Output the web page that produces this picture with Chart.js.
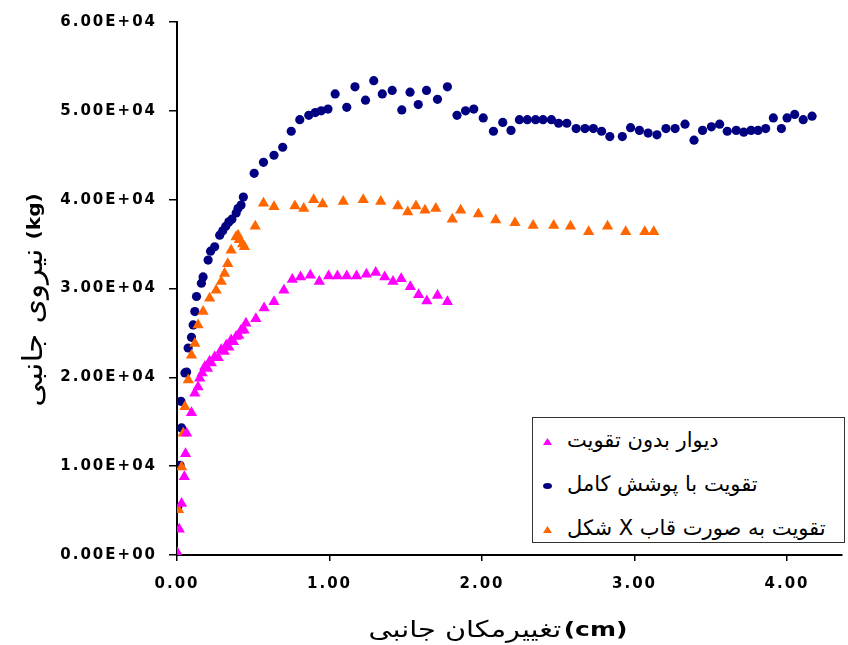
<!DOCTYPE html>
<html>
<head>
<meta charset="utf-8">
<script src="https://cdn.jsdelivr.net/npm/chart.js@4"></script>
<style>
  html, body { margin: 0; padding: 0; background: #fff; }
  #wrap { position: relative; width: 848px; height: 645px; }
  #legend {
    position: absolute; left: 532px; top: 417px; width: 311px; height: 124px;
    border: 1.5px solid #333; background: #fff;
    font-family: "DejaVu Sans", sans-serif; font-size: 21px; color: #000;
  }
  .row { position: absolute; left: 0; width: 100%; height: 30px; }
  .mk { position: absolute; left: 10px; top: 12px; width: 9px; height: 7px; }
  .tri { clip-path: polygon(50% 0, 100% 100%, 0 100%); }
  .dot { border-radius: 50%; height: 6px; top: 13px; }
  .txt { position: absolute; left: 34px; top: 1px; direction: rtl; unicode-bidi: isolate; white-space: nowrap; line-height: 26px; }
</style>
</head>
<body>
<div id="wrap">
  <canvas id="c" width="848" height="645"></canvas>
  <div id="legend"></div>
</div>
<script>
// lateral displacement (cm) / lateral force (kg)
const seriesNames = ['دیوار بدون تقویت', 'تقویت با پوشش کامل', 'تقویت به صورت قاب X شکل'];
const seriesColors = ['#ff00ff', '#000080', '#ff6600'];

const wallX = [0, 0.015, 0.03, 0.048, 0.056, 0.063, 0.095, 0.117, 0.138, 0.149, 0.165, 0.182, 0.2, 0.214, 0.225, 0.247, 0.27, 0.29, 0.31, 0.323, 0.34, 0.355, 0.37, 0.388, 0.405, 0.42, 0.44, 0.452, 0.517, 0.571, 0.636, 0.701, 0.756, 0.81, 0.874, 0.933, 0.994, 1.052, 1.113, 1.177, 1.242, 1.303, 1.362, 1.416, 1.47, 1.53, 1.584, 1.638, 1.708, 1.773];
const wallY = [300, 2900, 5800, 8800, 11400, 13700, 16000, 18200, 18900, 19900, 20500, 21200, 21000, 21800, 21600, 22300, 22200, 23100, 22900, 23600, 23400, 24200, 24000, 24600, 24700, 25300, 25300, 26100, 26600, 27800, 28500, 29800, 31000, 31300, 31500, 30800, 31400, 31400, 31400, 31400, 31600, 31800, 31300, 30800, 31100, 30200, 29300, 28600, 29200, 28500];

const fullX = [0, 0.005, 0.02, 0.03, 0.026, 0.052, 0.063, 0.073, 0.095, 0.106, 0.117, 0.128, 0.16, 0.171, 0.204, 0.22, 0.247, 0.28, 0.3, 0.32, 0.34, 0.36, 0.388, 0.4, 0.42, 0.435, 0.506, 0.567, 0.636, 0.693, 0.749, 0.805, 0.864, 0.907, 0.946, 0.99, 1.037, 1.113, 1.167, 1.236, 1.29, 1.346, 1.411, 1.474, 1.528, 1.582, 1.636, 1.708, 1.773, 1.836, 1.892, 1.946, 2.008, 2.075, 2.136, 2.19, 2.245, 2.297, 2.351, 2.4, 2.455, 2.502, 2.556, 2.617, 2.675, 2.73, 2.784, 2.838, 2.92, 2.974, 3.032, 3.089, 3.147, 3.206, 3.266, 3.331, 3.39, 3.446, 3.504, 3.558, 3.608, 3.667, 3.716, 3.764, 3.81, 3.86, 3.91, 3.963, 4.0, 4.05, 4.106, 4.164];
const fullY = [0, 5400, 10100, 14300, 17300, 20500, 20600, 23300, 24500, 25900, 27400, 29100, 30600, 31300, 33200, 34200, 34700, 36000, 36500, 37000, 37500, 37800, 38500, 39000, 39400, 40300, 42970, 44200, 45000, 45900, 47700, 49000, 49500, 49800, 50000, 50200, 51900, 50400, 52700, 51200, 53400, 51900, 52300, 50100, 52100, 50700, 52300, 51300, 52700, 49500, 50000, 50200, 49200, 47700, 48700, 47800, 49000, 49000, 49000, 49000, 49000, 48600, 48600, 48000, 48000, 48000, 47700, 47100, 47100, 48100, 47800, 47500, 47300, 48000, 48000, 48500, 46700, 47800, 48200, 48500, 47700, 47800, 47600, 47800, 47800, 48000, 49200, 48000, 49200, 49600, 49000, 49400];

const frameX = [0, 0.01, 0.03, 0.041, 0.052, 0.074, 0.095, 0.117, 0.138, 0.171, 0.214, 0.257, 0.29, 0.312, 0.333, 0.355, 0.387, 0.4, 0.409, 0.43, 0.442, 0.513, 0.567, 0.636, 0.773, 0.831, 0.896, 0.955, 1.09, 1.221, 1.336, 1.448, 1.513, 1.567, 1.626, 1.697, 1.805, 1.86, 1.976, 2.09, 2.216, 2.335, 2.47, 2.58, 2.699, 2.823, 2.942, 3.067, 3.126];
const frameY = [200, 5100, 9900, 13700, 16700, 19700, 22500, 23800, 25900, 27400, 28900, 29800, 30800, 31700, 32800, 34300, 35800, 36000, 35500, 35000, 34700, 37000, 39600, 39200, 39300, 39000, 40000, 39500, 39800, 40000, 39800, 39300, 38600, 39300, 38800, 39000, 37800, 38800, 38400, 37700, 37400, 37100, 37100, 37000, 36400, 37000, 36400, 36400, 36400];

const xTitle = 'تغییرمکان جانبی';
const yTitle = 'نیروی جانبی';

function pts(xs, ys) { return xs.map((x, i) => ({ x: x, y: ys[i] })); }

const tickFont = { family: '"DejaVu Sans", sans-serif', size: 15, weight: 'bold' };

// draws persian text + bold unit side by side, stretched along the text direction
function drawTitle(ctx, cx, cy, rot, stretch, fa, faFont, unit, unitFont, gap) {
  ctx.save();
  ctx.fillStyle = '#000';
  ctx.textBaseline = 'middle';
  ctx.textAlign = 'left';
  ctx.translate(cx, cy);
  ctx.rotate(rot);
  ctx.scale(stretch, 1);
  ctx.font = faFont;
  const wf = ctx.measureText(fa).width;
  ctx.font = unitFont;
  const wu = ctx.measureText(unit).width;
  const sx = -(wf + gap + wu) / 2;
  ctx.font = faFont;
  ctx.fillText(fa, sx, 0);
  ctx.font = unitFont;
  ctx.fillText(unit, sx + wf + gap, 0);
  ctx.restore();
}

// canvas letter spacing for the wide tick labels, titles drawn after without it
const textPlugin = {
  id: 'textStyle',
  beforeDraw(chart) { chart.ctx.letterSpacing = '2px'; },
  afterDraw(chart) {
    const ctx = chart.ctx;
    ctx.letterSpacing = '0px';
    drawTitle(ctx, 35, 300, -Math.PI / 2, 1.12, yTitle, '28px "DejaVu Sans"', '(kg)', 'bold 18px "DejaVu Sans"', 8);
    drawTitle(ctx, 498, 631, 0, 1.25, xTitle, '23px "DejaVu Sans"', '(cm)', 'bold 20px "DejaVu Sans"', 2);
  }
};

const chart = new Chart(document.getElementById('c'), {
  type: 'scatter',
  data: {
    datasets: [
      { label: seriesNames[0], data: pts(wallX, wallY), pointStyle: 'triangle', pointRadius: 6.5,
        backgroundColor: seriesColors[0], borderColor: seriesColors[0], borderWidth: 0, order: 0 },
      { label: seriesNames[1], data: pts(fullX, fullY), pointStyle: 'circle', pointRadius: 4.6,
        backgroundColor: seriesColors[1], borderColor: seriesColors[1], borderWidth: 0, order: 2 },
      { label: seriesNames[2], data: pts(frameX, frameY), pointStyle: 'triangle', pointRadius: 6.5,
        backgroundColor: seriesColors[2], borderColor: seriesColors[2], borderWidth: 0, order: 1 }
    ]
  },
  options: {
    responsive: false,
    animation: false,
    layout: { padding: { top: 22, right: 0, bottom: 0, left: 0 } },
    plugins: { legend: { display: false }, tooltip: { enabled: false } },
    scales: {
      x: {
        type: 'linear', min: 0, max: 4.357,
        afterFit(s) { s.height = 90; },
        ticks: { stepSize: 1, includeBounds: false, autoSkip: false, maxRotation: 0,
                 callback: v => v.toFixed(2), font: tickFont, color: '#000', padding: 14 },
        grid: { drawOnChartArea: false, tickLength: 6, color: '#000', lineWidth: 1.5 },
        border: { color: '#000', width: 2 }
      },
      y: {
        min: 0, max: 60000,
        afterFit(s) { s.width = 177; },
        ticks: { stepSize: 10000, includeBounds: false,
                 callback: v => v === 0 ? '0.00E+00' : (v / 10000).toFixed(2) + 'E+04',
                 font: tickFont, color: '#000', padding: 12 },
        grid: { drawOnChartArea: false, tickLength: 8, color: '#000', lineWidth: 1.5 },
        border: { color: '#000', width: 2 }
      }
    }
  },
  plugins: [textPlugin]
});

// legend box inside the plot
const legend = document.getElementById('legend');
const markerCls = ['tri', 'dot', 'tri'];
const rowTops = [8, 52, 96];
[0, 1, 2].forEach(i => {
  const row = document.createElement('div');
  row.className = 'row';
  row.style.top = rowTops[i] + 'px';
  const mk = document.createElement('span');
  mk.className = 'mk ' + markerCls[i];
  mk.style.background = seriesColors[i];
  const txt = document.createElement('span');
  txt.className = 'txt';
  txt.textContent = seriesNames[i];
  row.appendChild(mk);
  row.appendChild(txt);
  legend.appendChild(row);
});
</script>
</body>
</html>
